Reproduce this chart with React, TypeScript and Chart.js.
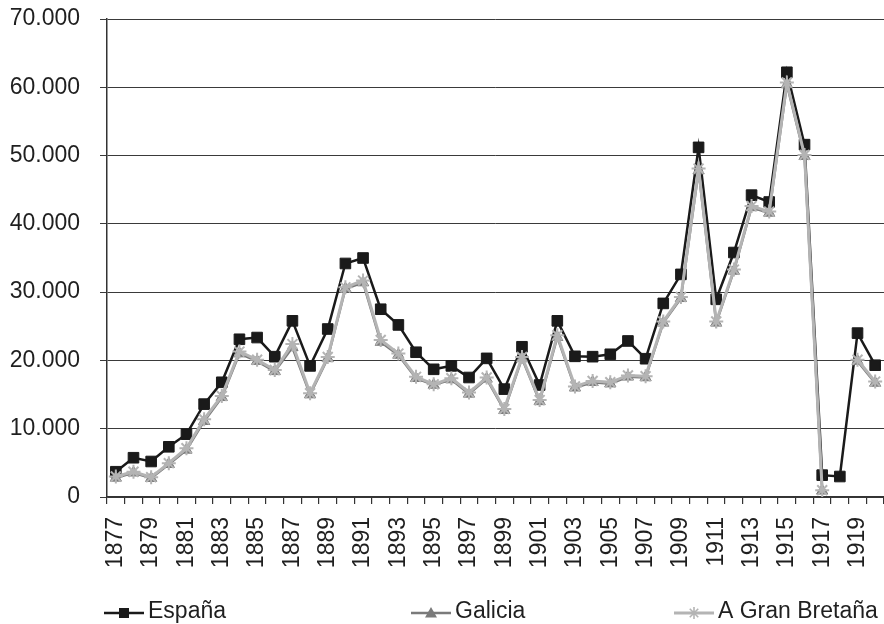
import React, { useEffect, useRef } from "react";
import { Chart, registerables } from "chart.js";

Chart.register(...registerables);

const years = [
  "1877", "1878", "1879", "1880", "1881", "1882", "1883", "1884", "1885", "1886",
  "1887", "1888", "1889", "1890", "1891", "1892", "1893", "1894", "1895", "1896",
  "1897", "1898", "1899", "1900", "1901", "1902", "1903", "1904", "1905", "1906",
  "1907", "1908", "1909", "1910", "1911", "1912", "1913", "1914", "1915", "1916",
  "1917", "1918", "1919", "1920",
];

const espana = [
  3700, 5750, 5200, 7350, 9200, 13600, 16800, 23100, 23350, 20550,
  25800, 19200, 24600, 34200, 35000, 27500, 25200, 21200, 18700, 19200,
  17500, 20300, 15800, 22000, 16400, 25800, 20600, 20550, 20900, 22850,
  20250, 28350, 32600, 51200, 28950, 35800, 44200, 43200, 62200, 51600,
  3200, 3000, 24000, 19300,
];

const galicia = [
  2800, 3550, 2750, 4800, 6900, 11100, 14600, 21000, 19900, 18400,
  21900, 15000, 20300, 30500, 31400, 22700, 20800, 17400, 16400, 17200,
  15100, 17300, 12700, 20300, 14000, 23400, 16000, 16800, 16600, 17600,
  17500, 25500, 29100, 47800, 25500, 33100, 42400, 41600, 60400, 49900,
  900, null, 19900, 16700,
];

const granBretana = [
  3000, 3700, 2900, 4950, 7150, 11400, 14800, 21300, 20100, 18600,
  22400, 15200, 20500, 30700, 31700, 23000, 21000, 17600, 16500, 17400,
  15300, 17500, 12900, 20500, 14200, 23700, 16200, 17000, 16800, 17800,
  17700, 25700, 29300, 48100, 25700, 33300, 42600, 41800, 60700, 50100,
  1000, null, 20100, 16900,
];

const seriesNames = ["España", "Galicia", "A Gran Bretaña"];

const FONT = '"Liberation Sans", Arial, Helvetica, sans-serif';
const TEXT = "#1f1f1f";

function formatThousands(v: number): string {
  const s = Math.round(v).toString();
  return s.replace(/\B(?=(\d{3})+(?!\d))/g, ".");
}

const legendPlugin = {
  id: "excelLegend",
  afterDraw(chart: any) {
    const ctx = chart.ctx;
    const starts = [104, 411, 674];
    const y = 613;
    ctx.save();
    chart.data.datasets.forEach((ds: any, i: number) => {
      const x0 = starts[i];
      const x1 = x0 + 40;
      const cx = (x0 + x1) / 2;
      ctx.strokeStyle = ds.borderColor;
      ctx.lineWidth = ds.borderWidth;
      ctx.beginPath();
      ctx.moveTo(x0, y);
      ctx.lineTo(x1, y);
      ctx.stroke();
      ctx.fillStyle = ds.pointBackgroundColor;
      if (ds.pointStyle === "rect") {
        ctx.fillRect(cx - 5, y - 5, 10, 10);
      } else if (ds.pointStyle === "triangle") {
        ctx.beginPath();
        ctx.moveTo(cx, y - 6);
        ctx.lineTo(cx + 6, y + 4.5);
        ctx.lineTo(cx - 6, y + 4.5);
        ctx.closePath();
        ctx.fill();
      } else {
        ctx.lineWidth = 1.6;
        const r = 6;
        ctx.beginPath();
        for (let k = 0; k < 4; k++) {
          const a = (k * Math.PI) / 4;
          ctx.moveTo(cx - r * Math.cos(a), y - r * Math.sin(a));
          ctx.lineTo(cx + r * Math.cos(a), y + r * Math.sin(a));
        }
        ctx.stroke();
      }
      ctx.fillStyle = TEXT;
      ctx.font = `23px ${FONT}`;
      ctx.textBaseline = "middle";
      ctx.textAlign = "left";
      ctx.fillText(ds.label, x1 + 4, y - 1);
    });
    ctx.restore();
  },
};

export default function App() {
  const canvasRef = useRef<HTMLCanvasElement | null>(null);

  useEffect(() => {
    if (!canvasRef.current) return;
    const chart = new Chart(canvasRef.current, {
      type: "line",
      data: {
        labels: years,
        datasets: [
          {
            label: seriesNames[0],
            data: espana,
            borderColor: "#1a1a1a",
            backgroundColor: "#1a1a1a",
            pointBackgroundColor: "#1a1a1a",
            pointBorderColor: "#1a1a1a",
            borderWidth: 2.5,
            pointStyle: "rect",
            pointRadius: 7.5,
            pointBorderWidth: 1,
            tension: 0,
            order: 3,
          },
          {
            label: seriesNames[1],
            data: galicia,
            borderColor: "#7a7a7a",
            backgroundColor: "#7a7a7a",
            pointBackgroundColor: "#7a7a7a",
            pointBorderColor: "#7a7a7a",
            borderWidth: 2.5,
            pointStyle: "triangle",
            pointRadius: 6.5,
            pointBorderWidth: 1,
            tension: 0,
            order: 2,
          },
          {
            label: seriesNames[2],
            data: granBretana,
            borderColor: "#b4b4b4",
            backgroundColor: "#b4b4b4",
            pointBackgroundColor: "#b4b4b4",
            pointBorderColor: "#b4b4b4",
            borderWidth: 3,
            pointStyle: "star",
            pointRadius: 7,
            pointBorderWidth: 2,
            tension: 0,
            order: 1,
          },
        ],
      },
      options: {
        responsive: false,
        animation: false,
        layout: { autoPadding: false, padding: { top: 19, right: 0, left: 0, bottom: 0 } },
        plugins: {
          legend: { display: false },
          tooltip: { enabled: false },
        },
        scales: {
          x: {
            offset: true,
            afterFit: (scale: any) => {
              scale.height = 127;
              scale.paddingLeft = 0;
              scale.paddingRight = 0;
            },
            grid: {
              offset: true,
              drawOnChartArea: false,
              drawTicks: true,
              tickLength: 7,
              color: "#333",
              lineWidth: 1.2,
            },
            border: { display: true, color: "#333", width: 1.5 },
            ticks: {
              autoSkip: false,
              maxRotation: 90,
              minRotation: 90,
              padding: 13,
              color: TEXT,
              font: { family: FONT, size: 23 },
              callback: (_v: any, i: number) => (i % 2 === 0 ? years[i] : ""),
            },
          },
          y: {
            min: 0,
            max: 70000,
            afterFit: (scale: any) => {
              scale.width = 107;
              scale.paddingTop = 0;
              scale.paddingBottom = 0;
            },
            grid: {
              color: "#3a3a3a",
              lineWidth: 1,
              drawTicks: true,
              tickLength: 7,
            },
            border: { display: true, color: "#333", width: 1.5 },
            ticks: {
              stepSize: 10000,
              padding: 20,
              color: TEXT,
              font: { family: FONT, size: 23 },
              callback: (v: any) => formatThousands(Number(v)),
            },
          },
        },
      },
      plugins: [legendPlugin],
    } as any);
    return () => chart.destroy();
  }, []);

  return (
    <div style={{ position: "fixed", left: 0, top: 0, width: 884, height: 624, background: "#fff" }}>
      <canvas ref={canvasRef} width={884} height={624} style={{ width: 884, height: 624, display: "block" }} />
    </div>
  );
}
